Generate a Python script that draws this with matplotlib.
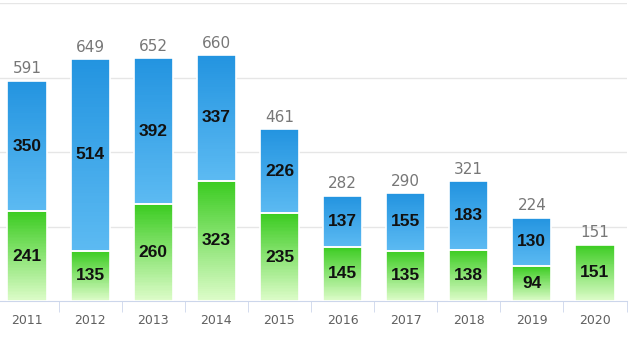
import numpy as np
import matplotlib.pyplot as plt
from matplotlib.colors import LinearSegmentedColormap

# data
years = ["2011", "2012", "2013", "2014", "2015", "2016", "2017", "2018", "2019", "2020"]
green_values = [241, 135, 260, 323, 235, 145, 135, 138, 94, 151]
blue_values = [350, 514, 392, 337, 226, 137, 155, 183, 130, 0]

totals = [g + b for g, b in zip(green_values, blue_values)]

green_cmap = LinearSegmentedColormap.from_list("g", ["#dcfcc8", "#3ccc22"])
blue_cmap = LinearSegmentedColormap.from_list("b", ["#5cbaf2", "#2394e0"])
steps = 60

fig = plt.figure(figsize=(6.39, 3.42), dpi=100)
ax = fig.add_axes([-4.5 / 639, 41 / 342, 631 / 639, 298 / 342])

x = np.arange(len(years))
width = 0.62

ax.set_xlim(-0.5, len(years) - 0.5)
ax.set_ylim(0, 800)

# gridlines
for yv in [200, 400, 600, 800]:
    ax.axhline(yv, color="#e6e6e6", lw=1, zorder=0)


def grad_bar(xc, bottom, height, cmap):
    # gradient made of thin stacked slices
    if height <= 0:
        return
    h = height / steps
    for k in range(steps):
        ax.bar(xc, h * 1.02, width, bottom=bottom + k * h,
               color=cmap(k / (steps - 1)), edgecolor="none", zorder=2)
    ax.bar(xc, height, width, bottom=bottom, fill=False,
           edgecolor="white", lw=1.2, zorder=3)


for i in x:
    grad_bar(i, 0, green_values[i], green_cmap)
    grad_bar(i, green_values[i], blue_values[i], blue_cmap)
    ax.text(i, green_values[i] / 2, str(green_values[i]), ha="center", va="center",
            fontsize=12.5, fontweight="bold", color="#111111", zorder=4,
            family="Liberation Sans")
    if blue_values[i] > 0:
        ax.text(i, green_values[i] + blue_values[i] / 2, str(blue_values[i]),
                ha="center", va="center", fontsize=12.5, fontweight="bold",
                color="#111111", zorder=4, family="Liberation Sans")
    ax.text(i, totals[i] + 12, str(totals[i]), ha="center", va="bottom",
            fontsize=11, color="#777777", zorder=4)

for s in ["top", "right", "left"]:
    ax.spines[s].set_visible(False)
ax.spines["bottom"].set_color("#ccd6eb")
ax.set_yticks([])
ax.set_xticks(x)
ax.set_xticklabels(years, color="#606060", fontsize=9)
ax.tick_params(axis="x", length=0, pad=9)
ax.set_xticks(np.arange(-0.5, len(years)), minor=True)
ax.tick_params(axis="x", which="minor", length=8, color="#ccd6eb")

plt.savefig("out.png")
